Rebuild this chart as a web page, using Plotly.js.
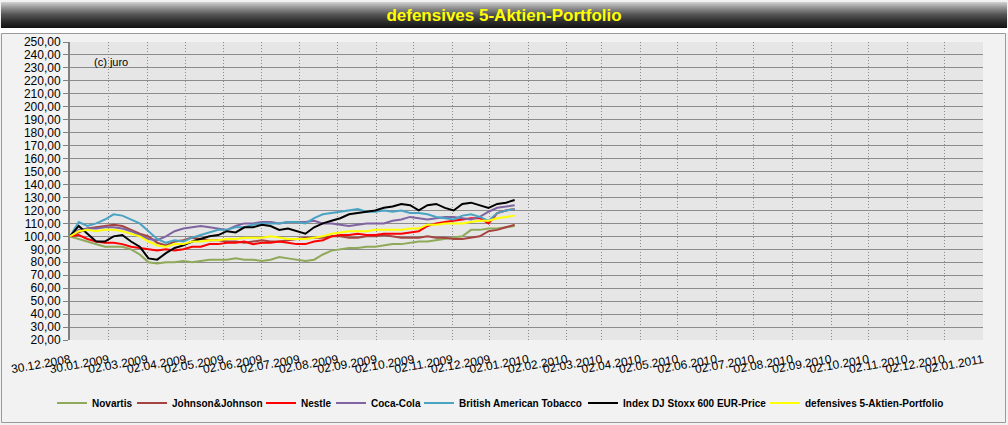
<!DOCTYPE html>
<html>
<head>
<meta charset="utf-8">
<script src="https://cdn.plot.ly/plotly-3.0.1.min.js"></script>
<style>
  html, body { margin: 0; padding: 0; background: #f2f2f2; }
  #chart { width: 1008px; height: 425px; }
</style>
</head>
<body>
<div id="chart"></div>
<script>
// ---------- data (weekly readings) ----------
const dates = [
  '2008-12-30','2009-01-06','2009-01-13','2009-01-20','2009-01-27','2009-02-03','2009-02-10','2009-02-17',
  '2009-02-24','2009-03-03','2009-03-10','2009-03-17','2009-03-24','2009-03-31','2009-04-07','2009-04-14',
  '2009-04-21','2009-04-28','2009-05-05','2009-05-12','2009-05-19','2009-05-26','2009-06-02','2009-06-09',
  '2009-06-16','2009-06-23','2009-06-30','2009-07-07','2009-07-14','2009-07-21','2009-07-28','2009-08-04',
  '2009-08-11','2009-08-18','2009-08-25','2009-09-01','2009-09-08','2009-09-15','2009-09-22','2009-09-29',
  '2009-10-06','2009-10-13','2009-10-20','2009-10-27','2009-11-03','2009-11-10','2009-11-17','2009-11-24',
  '2009-12-01','2009-12-08','2009-12-15','2009-12-22'
];
const novartis = [100,98,96,94,92,92,92,90,86,80,79,80,80,81,80,81,82,82,82,83,82,82,81,82,84,83,82,81,82,86,89,90,91,91,92,92,93,94,94,95,96,96,97,98,99,100,105,105,106,106,107,108];
const johnson  = [100,103,106,107,108,109,108,105,102,100,95,93,96,97,99,98,97,97,96,96,95,96,97,96,96,97,98,99,99,99,100,100,99,99,100,100,101,100,99,99,99,100,99,99,98,98,99,100,104,105,107,109];
const nestle   = [100,101,98,96,95,95,94,92,91,90,89,90,89,90,92,92,94,94,95,95,96,94,95,95,96,95,94,94,96,97,100,101,101,102,101,101,102,102,102,103,104,108,110,111,112,113,114,114,110,118,120,121];
const cocacola = [100,105,106,106,107,107,106,104,101,98,97,100,104,106,107,108,107,106,105,108,110,110,111,111,110,111,111,111,112,110,110,109,108,109,110,110,110,112,113,115,114,113,114,115,115,114,113,115,119,122,123,124];
const bat      = [100,111,108,110,113,117,116,113,110,104,98,95,97,96,99,101,103,105,105,107,107,109,110,110,110,111,111,110,114,117,118,119,120,121,119,119,120,119,120,118,118,117,115,114,113,116,117,115,112,118,120,121];
const stoxx    = [100,108,102,96,96,100,101,96,92,83,82,87,91,93,96,98,100,101,104,103,107,107,109,108,105,106,104,102,107,110,112,114,117,118,119,120,122,123,125,124,120,124,125,122,120,125,126,124,122,125,126,128];
const portfolio= [100,104,105,104,105,105,104,102,100,96,93,92,94,94,96,96,97,97,98,98,99,99,99,100,99,98,98,98,99,100,102,103,104,104,104,105,105,105,105,106,106,109,109,110,110,110,111,112,112,114,115,116];

const seriesNames = ['Novartis','Johnson&Johnson','Nestle','Coca-Cola','British American Tobacco','Index DJ Stoxx 600 EUR-Price','defensives 5-Aktien-Portfolio'];
const seriesValues = [novartis, johnson, nestle, cocacola, bat, stoxx, portfolio];
const seriesColors = ['#8fa95a','#a5443e','#ff0000','#8064a2','#4ba3c3','#000000','#ffff00'];

const tickDates = ['2008-12-30','2009-01-30','2009-03-02','2009-04-02','2009-05-02','2009-06-02','2009-07-02',
  '2009-08-02','2009-09-02','2009-10-02','2009-11-02','2009-12-02','2010-01-02','2010-02-02','2010-03-02',
  '2010-04-02','2010-05-02','2010-06-02','2010-07-02','2010-08-02','2010-09-02','2010-10-02','2010-11-02',
  '2010-12-02','2011-01-02'];
const tickLabels = ['30.12.2008','30.01.2009','02.03.2009','02.04.2009','02.05.2009','02.06.2009','02.07.2009',
  '02.08.2009','02.09.2009','02.10.2009','02.11.2009','02.12.2009','02.01.2010','02.02.2010','02.03.2010',
  '02.04.2010','02.05.2010','02.06.2010','02.07.2010','02.08.2010','02.09.2010','02.10.2010','02.11.2010',
  '02.12.2010','02.01.2011'];

const chartTitle = 'defensives 5-Aktien-Portfolio';
const copyright = '(c) juro';
const yMin = 20, yMax = 250, baseLine = 100;

// ---------- layout geometry ----------
const W = 1008, H = 425;
const M = {l: 70, r: 25, t: 42, b: 85, autoexpand: false};
const PW = W - M.l - M.r, PH = H - M.t - M.b;
const px = x => (x - M.l) / PW;
const py = y => (H - M.b - y) / PH;
// left edge (px) of each legend entry's line sample, as laid out in the reference
const legendLeft = [60, 140, 269, 339, 427, 591, 773];

const legendIds = seriesNames.map((n, i) => i === 0 ? 'legend' : 'legend' + (i + 1));

const traces = seriesNames.map((n, i) => ({
  type: 'scatter', mode: 'lines', name: n,
  x: dates, y: seriesValues[i],
  line: {color: seriesColors[i], width: 2},
  legend: legendIds[i],
  hoverinfo: 'skip'
}));

// title bar gradient bands
function lerp(a, b, t) { return Math.round(a + (b - a) * t); }
const stops = [[2, 205], [7, 150], [14, 85], [21, 45], [28, 15]];
const shapes = [];
shapes.push({type: 'rect', xref: 'paper', yref: 'paper', x0: px(0), x1: px(W), y0: py(33), y1: py(28),
  fillcolor: '#ffffff', line: {width: 0}, layer: 'below'});
for (let y = 2; y < 28; y++) {
  let g = 0;
  for (let s = 0; s < stops.length - 1; s++) {
    if (y >= stops[s][0] && y <= stops[s + 1][0]) {
      g = lerp(stops[s][1], stops[s + 1][1], (y - stops[s][0]) / (stops[s + 1][0] - stops[s][0]));
      break;
    }
  }
  shapes.push({type: 'rect', xref: 'paper', yref: 'paper', x0: px(1), x1: px(W - 1), y0: py(y + 1), y1: py(y),
    fillcolor: `rgb(${g},${g},${g})`, line: {width: 0}, layer: 'below'});
}
shapes.push({type: 'rect', xref: 'paper', yref: 'paper', x0: px(1.5), x1: px(W - 2.5), y0: py(H - 2.5), y1: py(33.5),
  fillcolor: 'rgba(0,0,0,0)', line: {color: '#9a9a9a', width: 1}, layer: 'below'});

const baseFrac = (baseLine - yMin) / (yMax - yMin);

const layout = {
  width: W, height: H,
  margin: M,
  paper_bgcolor: '#f2f2f2',
  plot_bgcolor: '#e6e6e6',
  separators: ',.',
  showlegend: true,
  title: {
    text: '<b>' + chartTitle + '</b>',
    font: {family: 'Liberation Sans, Arial, sans-serif', size: 17, color: '#ffff00'},
    x: 0.5, xanchor: 'center', y: 1 - 15 / H, yanchor: 'middle'
  },
  xaxis: {
    type: 'date', automargin: false,
    range: [tickDates[0], tickDates[tickDates.length - 1]],
    tickvals: tickDates, ticktext: tickLabels,
    tickangle: -10,
    ticklabelstandoff: 10,
    tickfont: {family: 'Liberation Sans, Arial, sans-serif', size: 12, color: '#000'},
    showgrid: true, gridcolor: '#8a8a8a', griddash: '1px,2px', gridwidth: 1,
    showline: false, ticks: '', zeroline: false,
    fixedrange: true
  },
  xaxis2: {
    type: 'date', overlaying: 'x', anchor: 'free', position: baseFrac, automargin: false,
    range: [tickDates[0], tickDates[tickDates.length - 1]],
    tickvals: tickDates, showticklabels: false,
    ticks: 'outside', ticklen: 4, tickcolor: '#7a7a7a', tickwidth: 1,
    showline: true, linecolor: '#808080', linewidth: 2,
    showgrid: false, zeroline: false
  },
  yaxis: {
    range: [yMin, yMax], dtick: 10, tick0: 0, automargin: false,
    tickformat: '.2f',
    tickfont: {family: 'Liberation Sans, Arial, sans-serif', size: 12, color: '#000'},
    showgrid: true, gridcolor: '#8c8c8c', gridwidth: 1,
    showline: true, linecolor: '#808080', linewidth: 2,
    ticks: 'outside', ticklen: 5, tickcolor: '#808080',
    zeroline: false, fixedrange: true
  },
  annotations: [{
    text: copyright, xref: 'paper', yref: 'paper', x: px(92), y: py(62),
    xanchor: 'left', yanchor: 'middle', showarrow: false,
    font: {family: 'Liberation Sans, Arial, sans-serif', size: 11, color: '#000'}
  }],
  shapes: shapes
};

legendIds.forEach((id, i) => {
  layout[id] = {
    orientation: 'h', x: px(legendLeft[i] - 8), xanchor: 'left', y: py(403), yanchor: 'middle',
    font: {family: 'Liberation Sans, Arial, sans-serif', size: 10, color: '#000', weight: 'bold'},
    bgcolor: 'rgba(0,0,0,0)', borderwidth: 0, itemwidth: 30
  };
});

Plotly.newPlot('chart', traces, layout, {displayModeBar: false, staticPlot: true});
</script>
</body>
</html>
